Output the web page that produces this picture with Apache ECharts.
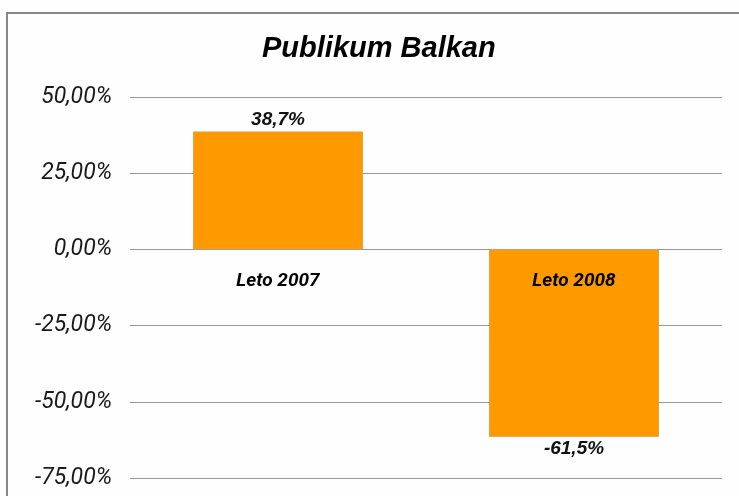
<!DOCTYPE html>
<html>
<head>
<meta charset="utf-8">
<script src="https://cdn.jsdelivr.net/npm/echarts@6/dist/echarts.min.js"></script>
<style>
  html, body { margin: 0; padding: 0; background: #fff; }
  #chart { width: 739px; height: 496px; }
</style>
</head>
<body>
<div id="chart"></div>
<script>
// Daten
const categories = ['Leto 2007', 'Leto 2008'];
const values = [38.7, -61.5];
const yTicks = { min: -75, max: 50, step: 25 };

const chart = echarts.init(document.getElementById('chart'), null, { renderer: 'canvas' });
const narrow = 'Roboto, sans-serif';
const wide = '"Liberation Sans", Arial, sans-serif';

const option = {
    backgroundColor: '#fefefe',
    animation: false,
    title: {
        text: 'Publikum Balkan',
        left: 257,
        top: 29,
        textStyle: { fontFamily: wide, fontSize: 29, fontWeight: 'bold', fontStyle: 'italic', color: '#000' }
    },
    graphic: [{
        type: 'rect',
        shape: { x: 7, y: 13, width: 760, height: 520 },
        style: { fill: 'none', stroke: '#888', lineWidth: 2 },
        silent: true
    }],
    grid: { left: 130, right: 17, top: 97, bottom: 18 },
    xAxis: {
        type: 'category',
        data: categories,
        axisLine: { show: false },
        axisTick: { show: false },
        axisLabel: { show: false }
    },
    yAxis: {
        type: 'value',
        min: yTicks.min,
        max: yTicks.max,
        interval: yTicks.step,
        axisLine: { show: false },
        axisTick: { show: false },
        splitLine: { lineStyle: { color: '#999', width: 1 } },
        axisLabel: {
            margin: 18,
            fontFamily: narrow, fontSize: 23, fontStyle: 'italic', color: '#1a1a1a',
            formatter: v => v.toFixed(2).replace('.', ',') + '%'
        }
    },
    series: [{
        type: 'bar',
        data: values.map(v => ({
            value: v,
            // negative Werte: Label unterhalb
            label: { position: v < 0 ? 'bottom' : 'top' }
        })),
        barWidth: 170,
        itemStyle: { color: '#FF9900', borderColor: '#E8A040', borderWidth: 1 },
        label: {
            show: true,
            distance: 2,
            fontFamily: wide, fontSize: 19, fontWeight: 'bold', fontStyle: 'italic', color: '#111',
            formatter: p => p.value.toFixed(1).replace('.', ',') + '%'
        }
    }, {
        // Kategorie-Beschriftung an der Nulllinie
        type: 'scatter',
        data: categories.map(c => [c, 0]),
        symbolSize: 0,
        z: 5,
        itemStyle: { opacity: 1 },
        label: {
            show: true,
            position: 'bottom',
            distance: 22,
            fontFamily: narrow, fontSize: 19, fontWeight: 'bold', fontStyle: 'italic', color: '#000',
            formatter: p => p.value[0]
        }
    }]
};

chart.setOption(option);
</script>
</body>
</html>
